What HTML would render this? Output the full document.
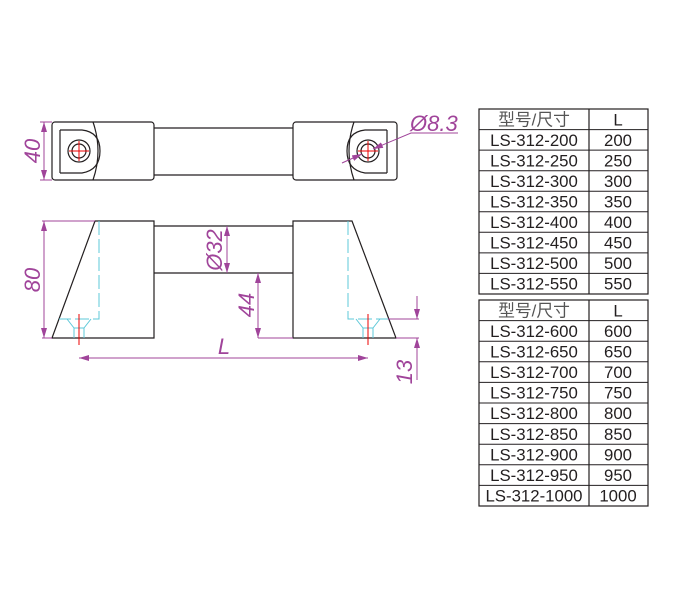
<!DOCTYPE html>
<html><head><style>
html,body{margin:0;padding:0;background:#fff;width:700px;height:600px;overflow:hidden}
svg{display:block}
.k{stroke:#231f20;stroke-width:1.2;fill:none}
.m{stroke:#a0449a;stroke-width:1;fill:none}
.c{stroke:#5ec8d8;stroke-width:1;fill:none}
.r{stroke:#e00;stroke-width:1}
.mt{fill:#a0449a;font-family:"Liberation Sans",sans-serif;font-style:italic;font-size:22px}
.tt{font-family:"Liberation Sans","Noto Sans CJK SC",sans-serif;font-size:16.8px;fill:#231f20;text-anchor:middle}
</style></head><body>
<svg width="700" height="600" viewBox="0 0 700 600">
<defs>
<marker id="a" viewBox="0 0 10 6" refX="10" refY="3" markerWidth="10" markerHeight="6" orient="auto-start-reverse" markerUnits="userSpaceOnUse"><path d="M0,0L10,3L0,6z" fill="#a0449a"/></marker>
</defs>
<!-- TOP VIEW -->
<rect class="k" x="52" y="122" width="102" height="58" rx="3"/>
<rect class="k" x="293" y="122" width="104" height="58" rx="3"/>
<line class="k" x1="154" y1="128" x2="293" y2="128"/>
<line class="k" x1="154" y1="175" x2="293" y2="175"/>
<path class="k" d="M60,130 V173 M60,130 H82 Q100,132 100,151 Q100,170 82,173 H60"/>
<path class="k" d="M93,122 Q103,151 93,180"/>
<circle class="k" cx="79" cy="151" r="11"/><circle class="k" cx="79" cy="151" r="7"/>
<line class="r" x1="69" y1="151" x2="89" y2="151"/><line class="r" x1="79" y1="141" x2="79" y2="161"/>
<path class="k" d="M387,130 V173 M387,130 H365 Q347,132 347,151 Q347,170 365,173 H387"/>
<path class="k" d="M354,122 Q344,151 354,180"/>
<circle class="k" cx="368" cy="151" r="11"/><circle class="k" cx="368" cy="151" r="7"/>
<line class="r" x1="358" y1="151" x2="378" y2="151"/><line class="r" x1="368" y1="141" x2="368" y2="161"/>
<line class="m" x1="342" y1="163" x2="362" y2="154" marker-end="url(#a)"/>
<polyline class="m" points="373,149 411,133 458,133" marker-start="url(#a)"/>
<text class="mt" x="410" y="131">Ø8.3</text>
<!-- 40 dim -->
<line class="m" x1="44" y1="122" x2="44" y2="180" marker-start="url(#a)" marker-end="url(#a)"/>
<line class="m" x1="40" y1="122" x2="52" y2="122"/><line class="m" x1="40" y1="180" x2="52" y2="180"/>
<text class="mt" transform="translate(40,151) rotate(-90)" text-anchor="middle">40</text>
<!-- SIDE VIEW -->
<polygon class="k" points="52,338 95,221 154,221 154,338"/>
<polygon class="k" points="293,221 352,221 396,338 293,338"/>
<line class="k" x1="154" y1="226" x2="293" y2="226"/>
<line class="k" x1="154" y1="273" x2="293" y2="273"/>
<path class="c" d="M99,221 V319 H59 M348,221 V319 H388" stroke-dasharray="14,4"/>
<path class="c" d="M67,319 L74,328 V338 M91,319 L84,328 V338 M74,328 H84 M356,319 L363,328 V338 M380,319 L373,328 V338 M363,328 H373"/>
<line class="r" x1="79" y1="314" x2="79" y2="345"/><line class="r" x1="368" y1="314" x2="368" y2="345"/>
<!-- 80 -->
<line class="m" x1="44" y1="221" x2="44" y2="338" marker-start="url(#a)" marker-end="url(#a)"/>
<line class="m" x1="42" y1="221" x2="95" y2="221"/><line class="m" x1="42" y1="338" x2="52" y2="338"/>
<text class="mt" transform="translate(40,280) rotate(-90)" text-anchor="middle">80</text>
<!-- 32 -->
<line class="m" x1="227" y1="226" x2="227" y2="273" marker-start="url(#a)" marker-end="url(#a)"/>
<text class="mt" transform="translate(222,250) rotate(-90)" text-anchor="middle">Ø32</text>
<!-- 44 -->
<line class="m" x1="258" y1="273" x2="258" y2="338" marker-start="url(#a)" marker-end="url(#a)"/>
<line class="m" x1="258" y1="338" x2="293" y2="338"/>
<text class="mt" transform="translate(254,305) rotate(-90)" text-anchor="middle">44</text>
<!-- L -->
<line class="m" x1="79" y1="358" x2="368" y2="358" marker-start="url(#a)" marker-end="url(#a)"/>
<text class="mt" x="224" y="354" text-anchor="middle">L</text>
<!-- 13 -->
<line class="m" x1="388" y1="319" x2="419" y2="319"/><line class="m" x1="396" y1="338" x2="419" y2="338"/>
<line class="m" x1="417" y1="296" x2="417" y2="319" marker-end="url(#a)"/>
<line class="m" x1="417" y1="380" x2="417" y2="338" marker-end="url(#a)"/>
<text class="mt" transform="translate(412,372) rotate(-90)" text-anchor="middle">13</text>
<!-- TABLES -->
<g stroke="#231f20" stroke-width="1.2" fill="none">
<rect x="479" y="109" width="169" height="185"/>
<line x1="589" y1="109" x2="589" y2="294"/>
<rect x="479" y="300" width="169" height="206"/>
<line x1="589" y1="300" x2="589" y2="506"/>
</g>
<g stroke="#231f20" stroke-width="1">
<line x1="479" y1="129.6" x2="648" y2="129.6"/><line x1="479" y1="150.1" x2="648" y2="150.1"/><line x1="479" y1="170.7" x2="648" y2="170.7"/><line x1="479" y1="191.2" x2="648" y2="191.2"/><line x1="479" y1="211.8" x2="648" y2="211.8"/><line x1="479" y1="232.3" x2="648" y2="232.3"/><line x1="479" y1="252.9" x2="648" y2="252.9"/><line x1="479" y1="273.4" x2="648" y2="273.4"/>
<line x1="479" y1="320.6" x2="648" y2="320.6"/><line x1="479" y1="341.2" x2="648" y2="341.2"/><line x1="479" y1="361.8" x2="648" y2="361.8"/><line x1="479" y1="382.4" x2="648" y2="382.4"/><line x1="479" y1="403" x2="648" y2="403"/><line x1="479" y1="423.6" x2="648" y2="423.6"/><line x1="479" y1="444.2" x2="648" y2="444.2"/><line x1="479" y1="464.8" x2="648" y2="464.8"/><line x1="479" y1="485.4" x2="648" y2="485.4"/>
</g>
<g class="tt">
<text x="534" y="125.5" fill="#555">型号/尺寸</text><text x="618" y="125.5">L</text>
<text x="534" y="146">LS-312-200</text><text x="618" y="146">200</text>
<text x="534" y="166.5">LS-312-250</text><text x="618" y="166.5">250</text>
<text x="534" y="187">LS-312-300</text><text x="618" y="187">300</text>
<text x="534" y="207.5">LS-312-350</text><text x="618" y="207.5">350</text>
<text x="534" y="228">LS-312-400</text><text x="618" y="228">400</text>
<text x="534" y="248.5">LS-312-450</text><text x="618" y="248.5">450</text>
<text x="534" y="269">LS-312-500</text><text x="618" y="269">500</text>
<text x="534" y="289.5">LS-312-550</text><text x="618" y="289.5">550</text>
<text x="534" y="316.5" fill="#555">型号/尺寸</text><text x="618" y="316.5">L</text>
<text x="534" y="337">LS-312-600</text><text x="618" y="337">600</text>
<text x="534" y="357.5">LS-312-650</text><text x="618" y="357.5">650</text>
<text x="534" y="378">LS-312-700</text><text x="618" y="378">700</text>
<text x="534" y="398.5">LS-312-750</text><text x="618" y="398.5">750</text>
<text x="534" y="419">LS-312-800</text><text x="618" y="419">800</text>
<text x="534" y="440">LS-312-850</text><text x="618" y="440">850</text>
<text x="534" y="460.5">LS-312-900</text><text x="618" y="460.5">900</text>
<text x="534" y="481">LS-312-950</text><text x="618" y="481">950</text>
<text x="534" y="501.5">LS-312-1000</text><text x="618" y="501.5">1000</text>
</g>
</svg>
</body></html>
